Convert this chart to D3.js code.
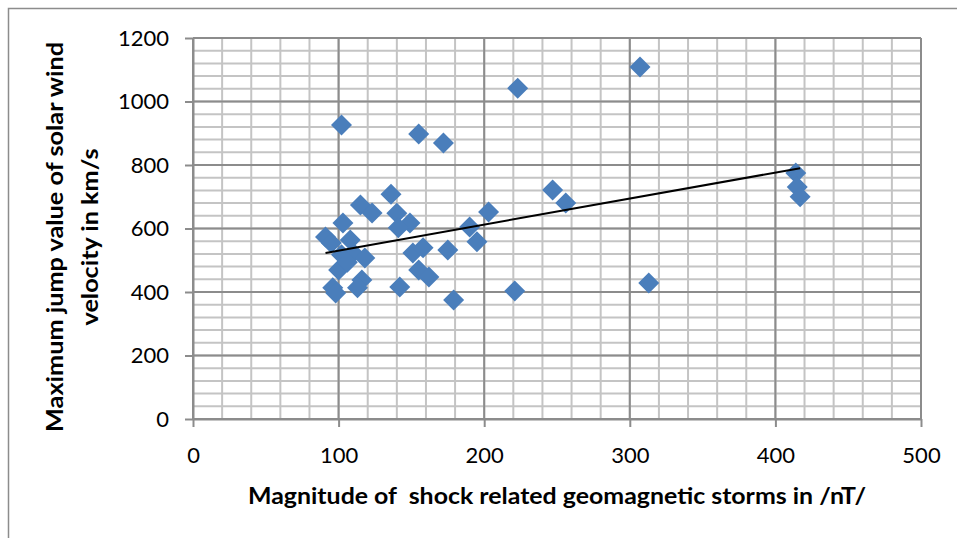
<!DOCTYPE html>
<html><head><meta charset="utf-8">
<script src="https://cdn.jsdelivr.net/npm/d3@7"></script>
<style>body{margin:0;background:#fff} svg{display:block}</style>
</head><body><svg id="c" width="957" height="538"></svg>
<script>
// Magnitude of shock related geomagnetic storms (nT)
const stormMagnitude = [307, 223, 102, 155, 172, 247, 256, 203, 136, 115, 123, 140, 103, 149, 141, 190, 195,
  91, 95, 108, 102, 110, 118, 100, 106, 151, 158, 175, 155, 162, 142, 179, 221, 313, 96, 98, 116, 113, 414, 415, 417];
// Maximum jump value of solar wind velocity (km/s)
const windJump = [1109, 1042, 926, 898, 869, 721, 680, 652, 708, 674, 649, 648, 617, 617, 602, 605, 558,
  573, 554, 564, 517, 523, 507, 469, 494, 523, 539, 532, 469, 447, 416, 375, 403, 428, 413, 397, 438, 413, 775, 731, 700];
const xTicks = [0, 100, 200, 300, 400, 500];
const yTicks = [0, 200, 400, 600, 800, 1000, 1200];
const trendX = [91, 417];
const trendY = [523, 790];
const xTitle = "Magnitude of  shock related geomagnetic storms in /nT/";
const yTitle = ["Maximum jump value of solar wind", "velocity in km/s"];

const svg = d3.select('#c');
const font = "Lato, 'Open Sans', sans-serif";
const x = d3.scaleLinear().domain([0, 500]).range([193, 921]);
const y = d3.scaleLinear().domain([0, 1200]).range([419, 38]);

// outer chart border
svg.append('path').attr('d', 'M8.5,545 V8.5 H965').attr('fill', 'none').attr('stroke', '#8c8c8c').attr('stroke-width', 1.5);

const g = svg.append('g');
// minor grid
const xMinor = d3.range(0, 501, 20), yMinor = d3.range(0, 1201, 40);
g.selectAll('.vmin').data(xMinor).join('line')
  .attr('x1', d => x(d)).attr('x2', d => x(d)).attr('y1', y(0)).attr('y2', y(1200))
  .attr('stroke', '#c4c4c4').attr('stroke-width', 2);
g.selectAll('.hmin').data(yMinor).join('line')
  .attr('x1', x(0)).attr('x2', x(500)).attr('y1', d => y(d)).attr('y2', d => y(d))
  .attr('stroke', '#c4c4c4').attr('stroke-width', 2);
// major grid
g.selectAll('.vmaj').data(xTicks).join('line')
  .attr('x1', d => x(d)).attr('x2', d => x(d)).attr('y1', y(0)).attr('y2', y(1200))
  .attr('stroke', '#8c8c8c').attr('stroke-width', 2);
g.selectAll('.hmaj').data(yTicks).join('line')
  .attr('x1', x(0)).attr('x2', x(500)).attr('y1', d => y(d)).attr('y2', d => y(d))
  .attr('stroke', '#8c8c8c').attr('stroke-width', 2);

// axes
const yAxis = svg.append('g').attr('transform', `translate(${x(0)},0)`)
  .call(d3.axisLeft(y).tickValues(yTicks).tickFormat(d3.format('d')).tickSize(8).tickPadding(16).tickSizeOuter(0));
const xAxis = svg.append('g').attr('transform', `translate(0,${y(0)})`)
  .call(d3.axisBottom(x).tickValues(xTicks).tickFormat(d3.format('d')).tickSize(8).tickPadding(20).tickSizeOuter(0));
[xAxis, yAxis].forEach(a => {
  a.select('.domain').attr('stroke', '#8c8c8c').attr('stroke-width', 2);
  a.selectAll('.tick line').attr('stroke', '#8c8c8c').attr('stroke-width', 2);
  a.selectAll('.tick text').attr('font-family', font).attr('font-size', 22).attr('fill', '#000');
});

// markers
const diamond = 'M0,-10.5L10.5,0L0,10.5L-10.5,0Z';
svg.append('g').selectAll('path').data(stormMagnitude.map((v, i) => [v, windJump[i]])).join('path')
  .attr('d', diamond).attr('transform', d => `translate(${x(d[0])},${y(d[1])})`)
  .attr('fill', '#4a7ebb');

// trendline
svg.append('path').datum(trendX.map((v, i) => [v, trendY[i]]))
  .attr('d', d3.line().x(d => x(d[0])).y(d => y(d[1])))
  .attr('stroke', '#000').attr('stroke-width', 2).attr('fill', 'none');

// titles
svg.append('text').attr('x', 557).attr('y', 504).attr('text-anchor', 'middle')
  .attr('font-family', font).attr('font-weight', 'bold').attr('font-size', 22)
  .attr('textLength', 618).attr('lengthAdjust', 'spacingAndGlyphs')
  .style('white-space', 'pre').text(xTitle);
const yLens = [390, 177];
svg.append('text').attr('transform', 'translate(0,237) rotate(-90)').attr('text-anchor', 'middle')
  .attr('font-family', font).attr('font-weight', 'bold').attr('font-size', 22)
  .selectAll('tspan').data(yTitle).join('tspan')
  .attr('x', 0).attr('y', (d, i) => i === 0 ? 63 : 98)
  .attr('textLength', (d, i) => yLens[i]).attr('lengthAdjust', 'spacingAndGlyphs')
  .text(d => d);
</script></body></html>
